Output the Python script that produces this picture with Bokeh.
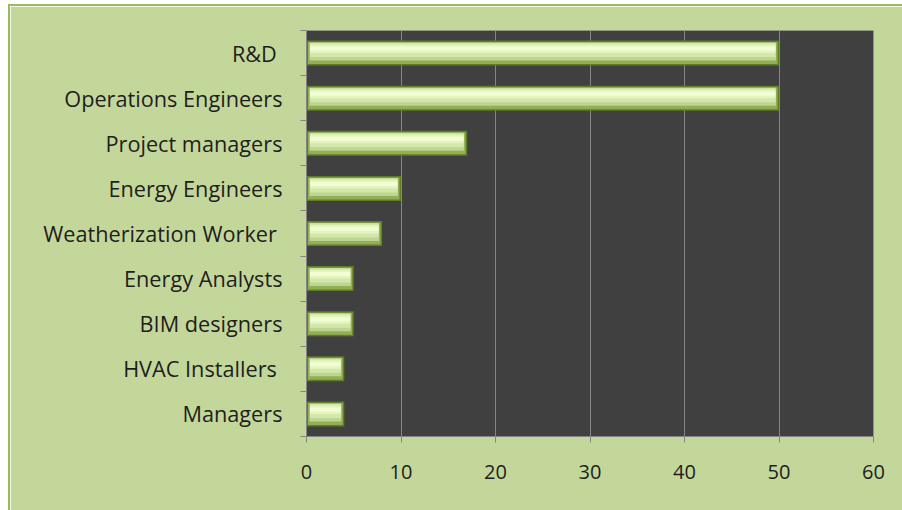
from bokeh.plotting import figure
from bokeh.models import (ColumnDataSource, Range1d, LinearAxis, FixedTicker)
from bokeh.transform import dodge
from bokeh.embed import file_html
from bokeh.resources import INLINE

# ---- data ----
categories = ["R&D ", "Operations Engineers", "Project managers", "Energy Engineers",
              "Weatherization Worker ", "Energy Analysts", "BIM designers",
              "HVAC Installers ", "Managers"]
values = [50, 50, 17, 10, 8, 5, 5, 4, 4]
x_ticks = [0, 10, 20, 30, 40, 50, 60]

FONT = "Open Sans"
LABEL_COLOR = "#1e1e1e"
GRID = "#858585"

n = len(categories)
ypos = [i + 0.5 for i in range(n)]
src = ColumnDataSource(dict(cat=categories, value=values, y=ypos))

p = figure(y_range=Range1d(n, 0), x_range=Range1d(0, 60),
           frame_width=567, frame_height=406,
           min_border_left=296, min_border_right=29,
           min_border_top=24, min_border_bottom=74,
           output_backend="svg", toolbar_location=None)
p.margin = (4, 0, 0, 8)
p.styles = {"border-top": "2px solid #9bbb59", "border-left": "2px solid #9bbb59"}

p.border_fill_color = "#c4d79b"
p.background_fill_color = "#404040"
p.outline_line_color = None

# grid
p.ygrid.grid_line_color = None
p.xgrid.ticker = FixedTicker(ticks=x_ticks[1:])
p.xgrid.grid_line_color = GRID
p.xgrid.grid_line_width = 1

# x axis
xa = p.xaxis[0]
xa.ticker = FixedTicker(ticks=x_ticks)
xa.axis_line_color = GRID
xa.major_tick_line_color = GRID
xa.major_tick_out = 6
xa.major_tick_in = 0
xa.minor_tick_line_color = None
xa.major_label_text_font = FONT
xa.major_label_text_font_size = "20px"
xa.major_label_text_color = LABEL_COLOR
xa.major_label_standoff = 22

# category label axis (labels only)
ya = p.yaxis[0]
ya.ticker = FixedTicker(ticks=ypos)
ya.major_label_overrides = {y: c for y, c in zip(ypos, categories)}
ya.axis_line_color = None
ya.major_tick_line_color = None
ya.minor_tick_line_color = None
ya.major_tick_out = 0
ya.major_tick_in = 0
ya.major_label_text_font = FONT
ya.major_label_text_font_size = "21.7px"
ya.major_label_text_color = LABEL_COLOR
ya.major_label_standoff = 18

# boundary tick axis
ta = LinearAxis(ticker=FixedTicker(ticks=list(range(n + 1))),
                major_label_overrides={i: "" for i in range(n + 1)},
                major_label_text_font_size="0px", major_label_standoff=0,
                axis_line_color=GRID, major_tick_line_color=GRID,
                major_tick_out=6, major_tick_in=0, minor_tick_line_color=None)
p.add_layout(ta, "left")
p.left = [ta, ya]

# bars: layered bands to mimic the bevelled cylinder look
BAR_PX = 25
UNIT_PX = 406 / n
PX_PER_X = 567 / 60
bands = [  # (top px, height px, colour, end inset px)
    (0.0, 25.0, "#5f7c28", 0),
    (1.5, 22.0, "#92af55", 1.5),
    (2.0, 18.0, "#bdd590", 3),
    (2.5, 14.0, "#d3e7aa", 3.5),
    (4.0, 8.5, "#e4f4bf", 3.5),
    (6.0, 4.0, "#f2fdd4", 3.5),
]
for top, h, col, inset in bands:
    off = ((top + h / 2) - BAR_PX / 2) / UNIT_PX
    ins = inset / PX_PER_X
    p.hbar(y=dodge("y", off), left=ins, right=dodge("value", -ins),
           height=h / UNIT_PX, fill_color=col, line_color=None, source=src)

open("out.html", "w").write(file_html(p, INLINE))
